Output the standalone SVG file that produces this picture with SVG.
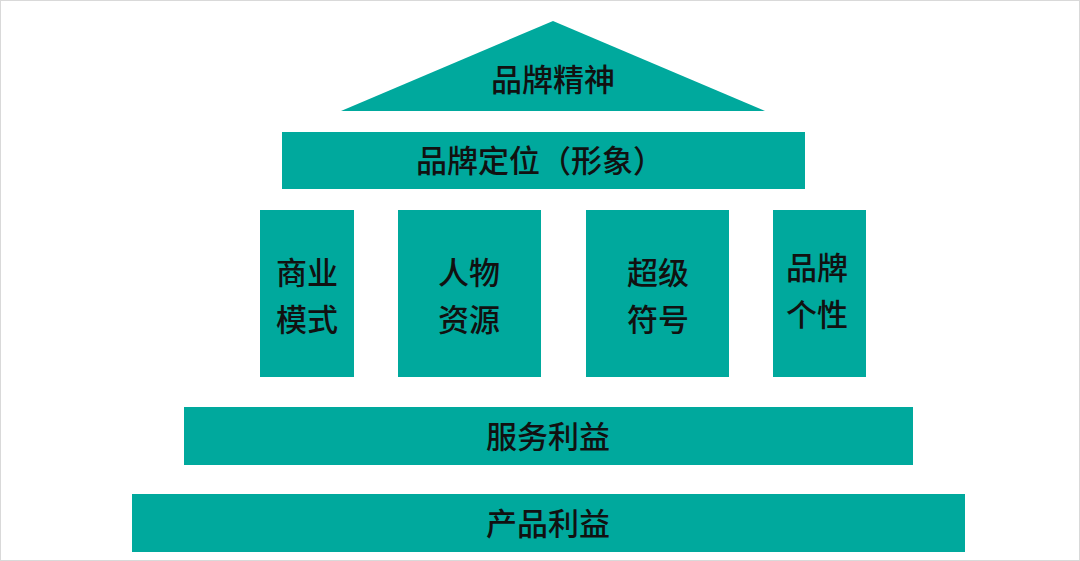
<svg xmlns="http://www.w3.org/2000/svg" width="1080" height="561" viewBox="0 0 1080 561">
<style>
.s{fill:#00A99D}
text{font-family:"Noto Sans CJK SC",sans-serif;font-size:31px;font-weight:500;fill:#111;text-anchor:middle}
</style>
<rect x="0.5" y="0.5" width="1079" height="560" fill="#fff" stroke="#d9d9d9"/>
<g id="roof"><polygon class="s" points="553,21 765,111 341,111"/><text x="553" y="91">品牌精神</text></g>
<g id="position"><rect class="s" x="282" y="132" width="523" height="57"/><text x="540" y="172">品牌定位（形象）</text></g>
<g id="p1"><rect class="s" x="260" y="210" width="94" height="167"/><text x="307" y="284">商业</text><text x="307" y="331">模式</text></g>
<g id="p2"><rect class="s" x="398" y="210" width="143" height="167"/><text x="469" y="284">人物</text><text x="469" y="331">资源</text></g>
<g id="p3"><rect class="s" x="586" y="210" width="143" height="167"/><text x="658" y="284">超级</text><text x="658" y="331">符号</text></g>
<g id="p4"><rect class="s" x="773" y="210" width="93" height="167"/><text x="817" y="279">品牌</text><text x="817" y="326">个性</text></g>
<g id="service"><rect class="s" x="184" y="407" width="729" height="58"/><text x="548" y="448">服务利益</text></g>
<g id="product"><rect class="s" x="132" y="494" width="833" height="58"/><text x="548" y="535">产品利益</text></g>
<g id="connectors"/>
</svg>
